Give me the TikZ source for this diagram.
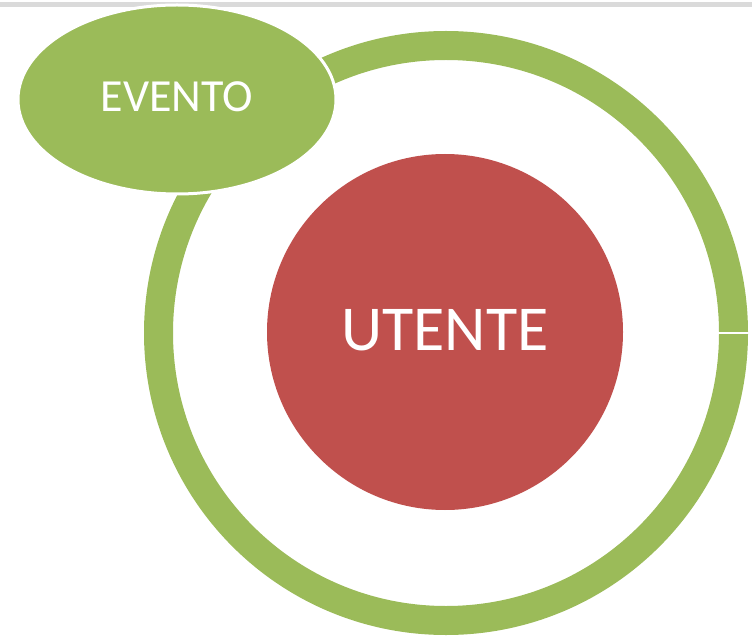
\documentclass[tikz,border=0pt]{standalone}
\usepackage{fontspec}
\setmainfont{Carlito}
\usetikzlibrary{shapes.geometric}
\definecolor{ringgreen}{HTML}{9BBB59}
\definecolor{userred}{HTML}{C0504D}
\definecolor{topgray}{HTML}{DADADA}

\begin{document}
\begin{tikzpicture}[x=1pt,y=-1pt,every node/.style={inner sep=0pt,outer sep=0pt},
	ring/.style={circle,draw=ringgreen,line width=29pt,minimum size=575pt},
	core/.style={circle,fill=userred,text=white,minimum size=356pt,text depth=4pt,font=\fontsize{64}{64}\selectfont},
	eventbox/.style={ellipse,fill=ringgreen,draw=white,line width=3pt,minimum width=318pt,minimum height=189pt,text=white,text depth=5pt,font=\fontsize{46}{46}\selectfont}]
	
	\useasboundingbox (0,0) rectangle (752,636);
	\draw[topgray,line width=5pt] (0,4.5) -- (752,4.5);
	
	\node[ring] (ring) at (446,333) {};
	% small cut in the ring
	\draw[white,line width=2pt] ([xshift=-16pt]ring.east) -- ([xshift=16pt]ring.east);
	
	\node[core] (utente) at (445,332) {UTENTE};
	\node[eventbox] (evento) at (177,99.5) {EVENTO};
	
\end{tikzpicture}
\end{document}
